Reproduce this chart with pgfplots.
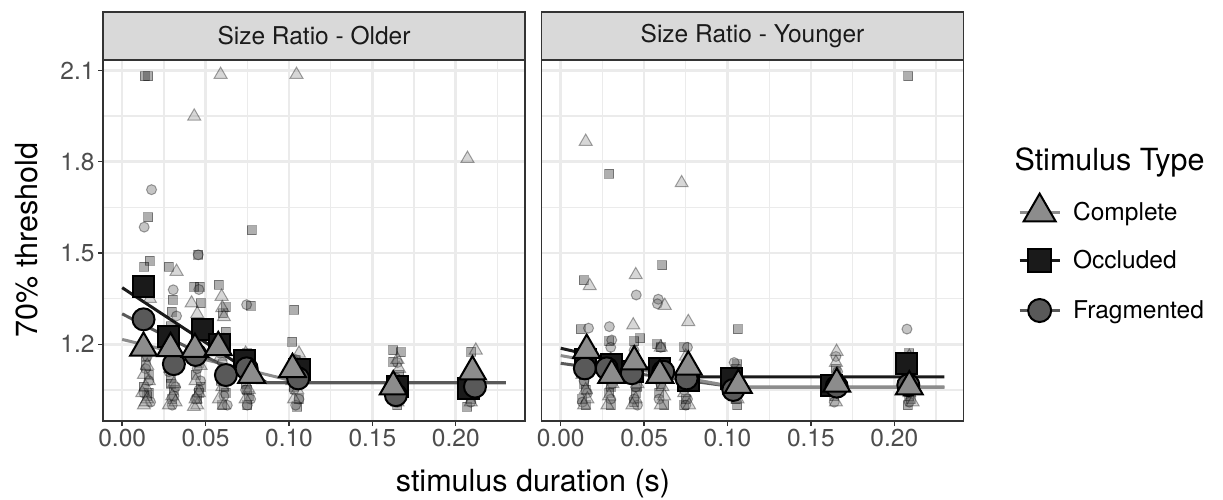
\documentclass[border=0pt]{standalone}
\usepackage{pgfplots}
\pgfplotsset{compat=1.18}
\usepackage{fontspec}
\setmainfont{TeX Gyre Heros}

\definecolor{gridc}{HTML}{EBEBEB}
\definecolor{ink20}{HTML}{333333}
\definecolor{ink30}{HTML}{4D4D4D}
\definecolor{stripc}{HTML}{D9D9D9}
\definecolor{cC}{HTML}{8C8C8C}
\definecolor{cO}{HTML}{1A1A1A}
\definecolor{cF}{HTML}{595959}

\newcommand\ticksize{\fontsize{24.5bp}{29bp}\selectfont}
\newcommand\titlesize{\fontsize{30.5bp}{36bp}\selectfont}

\pgfplotsset{
  panel/.style={
    scale only axis, width=422bp, height=361bp,
    xmin=-0.0115, xmax=0.2415, ymin=0.948, ymax=2.134,
    xtick={0,0.05,0.10,0.15,0.20},
    xticklabels={0.00,0.05,0.10,0.15,0.20},
    ytick={1.2,1.5,1.8,2.1},
    minor xtick={0.025,0.075,0.125,0.175,0.225},
    minor ytick={1.05,1.35,1.65,1.95},
    xtick pos=bottom, ytick pos=left,
    grid=both,
    major grid style={draw=gridc, line width=2.6bp},
    minor grid style={draw=gridc, line width=1.3bp},
    axis line style={draw=ink20, line width=1.4bp},
    tick align=outside, major tick length=5bp, minor tick length=0pt,
    every tick/.style={draw=ink20, line width=1.4bp},
    tick label style={font=\ticksize, text=ink30},
    /pgf/number format/assume math mode=true,
  },
  ptC/.style={only marks, mark=triangle*, mark size=7.5bp,
    mark options={draw=black, fill=cC, opacity=0.35, line width=1bp}},
  ptO/.style={only marks, mark=square*, mark size=4.5bp,
    mark options={draw=black, fill=cO, opacity=0.35, line width=1bp}},
  ptF/.style={only marks, mark=*, mark size=5bp,
    mark options={draw=black, fill=cF, opacity=0.35, line width=1bp}},
  mnC/.style={only marks, mark=triangle*, mark size=15.5bp,
    mark options={draw=black, fill=cC, line width=2bp}},
  mnO/.style={only marks, mark=square*, mark size=10.5bp,
    mark options={draw=black, fill=cO, line width=2bp}},
  mnF/.style={only marks, mark=*, mark size=11bp,
    mark options={draw=black, fill=cF, line width=2bp}},
  fitC/.style={no marks, draw=cC, line width=3bp},
  fitO/.style={no marks, draw=cO, line width=3bp},
  fitF/.style={no marks, draw=cF, line width=3bp},
}

% ---------- Size Ratio - Older ----------
\pgfplotstableread{
x y
0.013 1.00
0.015 1.02
0.012 1.04
0.014 1.06
0.016 1.08
0.013 1.10
0.015 1.13
0.014 1.01
0.0166 1.35
0.0326 1.439
0.028 1.00
0.030 1.03
0.031 1.07
0.029 1.12
0.033 1.16
0.030 1.21
0.032 1.01
0.0432 1.949
0.0416 1.335
0.045 1.00
0.043 0.995
0.046 1.04
0.044 1.08
0.047 1.13
0.045 1.30
0.044 1.02
0.059 2.086
0.0596 1.357
0.060 1.32
0.061 1.29
0.058 1.02
0.060 1.06
0.062 1.11
0.059 1.16
0.061 1.00
0.074 1.02
0.076 1.05
0.075 1.09
0.077 1.14
0.074 1.17
0.1045 2.086
0.103 1.02
0.105 1.05
0.102 1.08
0.104 1.14
0.106 1.17
0.165 1.01
0.166 1.04
0.164 1.07
0.166 1.12
0.165 1.15
0.207 1.81
0.212 1.18
0.209 1.01
0.210 1.04
0.211 1.08
0.209 1.13
}\olderC
\pgfplotstableread{
x y
0.0136 2.08
0.0155 2.08
0.0156 1.618
0.0166 1.475
0.0132 1.455
0.014 1.13
0.016 1.10
0.013 1.06
0.015 1.03
0.014 1.16
0.016 1.04
0.028 1.455
0.0302 1.346
0.0296 1.307
0.029 1.26
0.030 1.20
0.031 1.15
0.029 1.09
0.031 1.05
0.030 1.02
0.029 1.07
0.0456 1.494
0.0432 1.389
0.0466 1.389
0.0472 1.335
0.045 1.27
0.046 1.14
0.044 1.10
0.047 1.06
0.045 1.02
0.046 1.04
0.058 1.395
0.0602 1.302
0.0622 1.322
0.0622 1.241
0.060 1.17
0.061 1.12
0.059 1.08
0.062 1.04
0.060 1.00
0.061 1.06
0.0776 1.574
0.077 1.327
0.075 1.17
0.076 1.12
0.074 1.07
0.076 1.03
0.075 1.00
0.075 1.05
0.1031 1.313
0.1021 1.209
0.104 1.15
0.105 1.11
0.103 1.06
0.106 1.02
0.105 0.995
0.104 1.08
0.1625 1.181
0.167 1.174
0.1625 1.143
0.166 1.10
0.164 1.05
0.166 1.02
0.165 1.00
0.2094 1.176
0.208 1.10
0.210 1.05
0.209 1.02
0.207 0.995
}\olderO
\pgfplotstableread{
x y
0.0176 1.708
0.0132 1.585
0.015 1.16
0.014 1.12
0.016 1.08
0.017 1.01
0.013 1.04
0.0306 1.379
0.0326 1.293
0.031 1.22
0.030 1.16
0.028 1.11
0.032 1.06
0.030 1.00
0.031 1.03
0.0456 1.494
0.046 1.38
0.044 1.24
0.045 1.12
0.046 1.05
0.044 1.02
0.047 1.08
0.061 1.22
0.060 1.14
0.062 1.09
0.061 1.03
0.063 1.00
0.0746 1.33
0.075 1.16
0.076 1.10
0.074 1.05
0.077 1.02
0.075 1.00
0.104 1.15
0.105 1.10
0.103 1.05
0.106 1.02
0.104 1.00
0.165 1.14
0.164 1.09
0.166 1.04
0.165 1.01
0.210 1.09
0.211 1.04
0.209 1.01
}\olderF

% ---------- Size Ratio - Younger ----------
\pgfplotstableread{
x y
0.015 1.866
0.0174 1.392
0.014 1.16
0.013 1.10
0.015 1.05
0.016 1.02
0.014 1.00
0.029 1.03
0.031 1.07
0.030 1.12
0.028 1.00
0.030 1.15
0.045 1.428
0.0435 1.263
0.044 1.14
0.046 1.07
0.045 1.02
0.043 1.00
0.0624 1.327
0.060 1.19
0.059 1.13
0.061 1.06
0.060 1.00
0.062 1.03
0.0725 1.73
0.0765 1.274
0.075 1.16
0.076 1.09
0.074 1.04
0.077 1.00
0.104 1.10
0.105 1.05
0.106 1.02
0.1654 1.176
0.165 1.14
0.166 1.10
0.164 1.05
0.165 1.01
0.209 1.16
0.210 1.10
0.209 1.04
0.211 1.01
}\youngerC
\pgfplotstableread{
x y
0.0139 1.411
0.012 1.249
0.013 1.16
0.014 1.10
0.015 1.05
0.013 1.02
0.015 1.00
0.014 1.07
0.029 1.76
0.029 1.21
0.030 1.15
0.031 1.09
0.029 1.04
0.030 1.00
0.030 1.06
0.0478 1.22
0.044 1.21
0.045 1.12
0.046 1.06
0.044 1.01
0.045 1.04
0.0609 1.459
0.058 1.20
0.060 1.19
0.061 1.10
0.059 1.04
0.062 1.00
0.060 1.07
0.074 1.19
0.075 1.13
0.076 1.06
0.075 1.02
0.074 1.00
0.1061 1.249
0.106 1.134
0.105 1.12
0.104 1.07
0.106 1.00
0.105 1.02
0.165 1.12
0.166 1.07
0.164 1.03
0.2084 2.08
0.209 1.17
0.210 1.10
0.209 1.03
0.208 1.00
0.210 1.02
}\youngerO
\pgfplotstableread{
x y
0.0167 1.253
0.015 1.14
0.014 1.08
0.016 1.04
0.013 1.01
0.0292 1.258
0.0306 1.214
0.030 1.19
0.029 1.13
0.031 1.07
0.030 1.02
0.0453 1.362
0.044 1.18
0.046 1.12
0.045 1.06
0.044 1.02
0.046 1.00
0.0585 1.348
0.058 1.333
0.060 1.19
0.061 1.13
0.060 1.07
0.059 1.02
0.076 1.19
0.075 1.11
0.074 1.05
0.076 1.02
0.075 1.00
0.104 1.14
0.105 1.08
0.103 1.03
0.165 1.16
0.166 1.11
0.165 1.05
0.164 1.01
0.2076 1.25
0.209 1.10
0.210 1.05
0.209 1.01
}\youngerF

\begin{document}
\begin{tikzpicture}
\useasboundingbox (0,0) rectangle (1223bp,500bp);

% left panel
\begin{axis}[panel, name=p1, at={(103bp,79bp)}, anchor=south west,
  yticklabels={1.2,1.5,1.8,2.1}]
  \addplot[ptO] table {\olderO};
  \addplot[ptF] table {\olderF};
  \addplot[ptC] table {\olderC};
  % group means
  \addplot[mnO] coordinates {(0.0128,1.389) (0.028,1.227) (0.048,1.247) (0.0586,1.198)
    (0.0736,1.148) (0.1065,1.118) (0.1651,1.061) (0.2074,1.055)};
  \addplot[mnF] coordinates {(0.0128,1.282) (0.031,1.135) (0.044,1.165) (0.0622,1.099)
    (0.0746,1.121) (0.1055,1.088) (0.1641,1.033) (0.2115,1.061)};
  \addplot[mnC] coordinates {(0.0128,1.188) (0.029,1.187) (0.0436,1.184) (0.0576,1.19)
    (0.0776,1.099) (0.1021,1.118) (0.1625,1.061) (0.210,1.11)};
  % segmented fits
  \addplot[fitO] coordinates {(0,1.386) (0.0866,1.074) (0.23,1.074)};
  \addplot[fitC] coordinates {(0,1.216) (0.1065,1.074) (0.23,1.074)};
  \addplot[fitF] coordinates {(0,1.300) (0.0806,1.074) (0.23,1.074)};
\end{axis}

% right panel
\begin{axis}[panel, name=p2, at={(541.5bp,79bp)}, anchor=south west,
  yticklabels={}, ytick style={draw=none},
  legend style={at={(1.129,0.452)}, anchor=west, draw=none, fill=none,
    inner sep=0pt, row sep=27bp, font=\ticksize,
    nodes={inner sep=0pt, anchor=west},
    /tikz/every odd column/.append style={column sep=12bp}},
  legend cell align=left,
  legend image code/.code={%
    \draw[mark repeat=2, mark phase=2, #1]
      plot coordinates {(0bp,0bp) (20bp,0bp) (40bp,0bp)};}]
  \addplot[ptO, forget plot] table {\youngerO};
  \addplot[ptF, forget plot] table {\youngerF};
  \addplot[ptC, forget plot] table {\youngerC};
  \addplot[mnO, forget plot] coordinates {(0.0146,1.15) (0.0306,1.132) (0.043,1.11) (0.0595,1.121)
    (0.0765,1.08) (0.1025,1.088) (0.1625,1.066) (0.2074,1.1375)};
  \addplot[mnF, forget plot] coordinates {(0.0145,1.121) (0.0276,1.121) (0.0426,1.105) (0.0615,1.11)
    (0.0755,1.088) (0.1035,1.05) (0.1655,1.061) (0.2084,1.066)};
  \addplot[mnC, forget plot] coordinates {(0.0156,1.181) (0.0306,1.099) (0.0441,1.143) (0.0595,1.099)
    (0.0765,1.126) (0.1065,1.066) (0.1655,1.07) (0.209,1.061)};
  \addplot[fitO, forget plot] coordinates {(0,1.187) (0.0755,1.093) (0.23,1.093)};
  \addplot[fitF, forget plot] coordinates {(0,1.1375) (0.1055,1.059) (0.23,1.059)};
  \addplot[fitC, forget plot] coordinates {(0,1.163) (0.1055,1.059) (0.23,1.059)};

  \addlegendimage{draw=cC, line width=3bp, mark=triangle*, mark size=18.5bp,
    mark options={draw=black, fill=cC, line width=2bp, solid}}
  \addlegendentry{Complete}
  \addlegendimage{draw=cO, line width=3bp, mark=square*, mark size=11.5bp,
    mark options={draw=black, fill=cO, line width=2bp, solid}}
  \addlegendentry{Occluded}
  \addlegendimage{draw=cF, line width=3bp, mark=*, mark size=11.5bp,
    mark options={draw=black, fill=cF, line width=2bp, solid}}
  \addlegendentry{Fragmented}
\end{axis}

% facet strips
\foreach \p/\lab in {p1/{Size Ratio - Older}, p2/{Size Ratio - Younger}}{
  \draw[fill=stripc, draw=ink20, line width=1.4bp]
    (\p.north west) rectangle ([yshift=48bp]\p.north east);
  \node[font=\ticksize, text=cO] at ([yshift=24bp]\p.north) {\lab};
}

% axis titles and legend title
\node[font=\titlesize, anchor=base] at (533bp,9bp) {stimulus duration (s)};
\node[font=\titlesize, rotate=90, anchor=base] at (37bp,260bp) {70\% threshold};
\node[font=\titlesize, anchor=base west] at (1011bp,329bp) {Stimulus Type};
\end{tikzpicture}
\end{document}
